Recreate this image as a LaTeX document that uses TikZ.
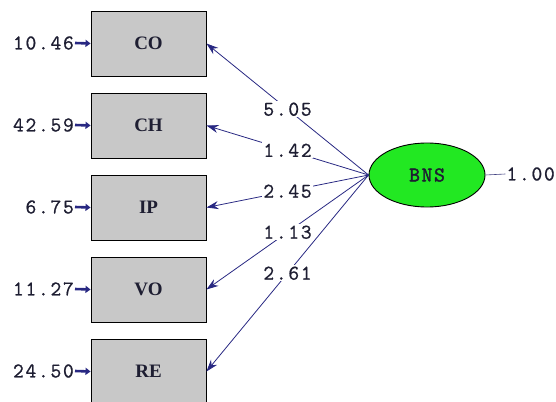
\documentclass[tikz,border=0pt]{standalone}
\usepackage{fontspec}
\setmainfont{Liberation Serif}
\setmonofont{Latin Modern Mono}[LetterSpace=8]
\usetikzlibrary{shapes.geometric,arrows.meta}
\definecolor{navy}{RGB}{40,40,130}
\definecolor{txt}{RGB}{30,30,50}
\definecolor{boxgray}{RGB}{200,200,200}
\definecolor{bnsgreen}{RGB}{34,232,34}
\newcommand{\numfont}{\fontsize{21}{21}\selectfont\ttfamily\addfontfeatures{FakeBold=0.8}}
\tikzset{
  obs/.style={draw=black, line width=0.9pt, fill=boxgray, minimum width=115pt, minimum height=65pt, inner sep=0pt, font=\fontsize{19}{19}\selectfont\bfseries, text=txt},
  lat/.style={ellipse, draw=black, line width=0.9pt, fill=bnsgreen, minimum width=116pt, minimum height=64pt, inner sep=0pt, font=\fontsize{21}{21}\selectfont\ttfamily\addfontfeatures{FakeBold=2}, text=txt},
  num/.style={font=\numfont, text=txt, inner sep=1pt},
  coef/.style={num, fill=white, inner sep=1.5pt},
  patharr/.style={draw=navy, line width=0.8pt, -{Stealth[length=12pt,width=8pt]}},
  errarr/.style={draw=navy, line width=2.6pt, -{Triangle[length=5pt,width=7pt]}}
}
\begin{document}
\begin{tikzpicture}[x=1pt,y=-1pt]
\useasboundingbox (0,0) rectangle (556,401);
\node[obs] (co) at (148.5,43.5) {CO};
\node[obs] (ch) at (148.5,125.5) {CH};
\node[obs] (ip) at (148.5,207.5) {IP};
\node[obs] (vo) at (148.5,289.5) {VO};
\node[obs] (re) at (148.5,371.5) {RE};
\node[lat] (bns) at (427,175) {BNS};
\node[num, anchor=east] (eco) at (75,43) {10.46};
\node[num, anchor=east] (ech) at (75,125) {42.59};
\node[num, anchor=east] (eip) at (75,207) {6.75};
\node[num, anchor=east] (evo) at (75,289) {11.27};
\node[num, anchor=east] (ere) at (75,371) {24.50};
\draw[errarr] (eco.east) -- (co.west);
\draw[errarr] (ech.east) -- (ch.west);
\draw[errarr] (eip.east) -- (ip.west);
\draw[errarr] (evo.east) -- (vo.west);
\draw[errarr] (ere.east) -- (re.west);
\node[num, anchor=east] (ebns) at (556,174) {1.00};
\draw[draw=navy!70!gray, line width=0.6pt] (bns.east) -- (ebns.west);
\draw[patharr] (bns.west) -- node[coef, pos=0.5] {5.05} (co.east);
\draw[patharr] (bns.west) -- node[coef, pos=0.5] {1.42} (ch.east);
\draw[patharr] (bns.west) -- node[coef, pos=0.5] {2.45} (ip.east);
\draw[patharr] (bns.west) -- node[coef, pos=0.5] {1.13} (vo.east);
\draw[patharr] (bns.west) -- node[coef, pos=0.5] {2.61} (re.east);
\end{tikzpicture}
\end{document}
